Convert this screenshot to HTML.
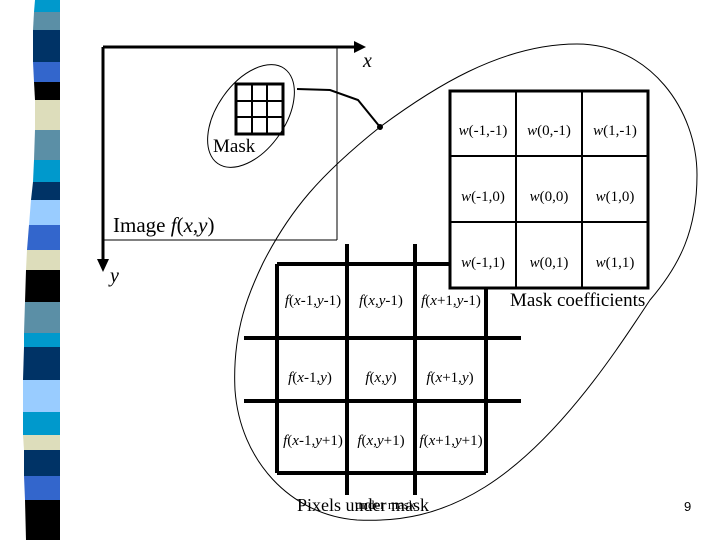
<!DOCTYPE html>
<html><head><meta charset="utf-8"><style>
html,body{margin:0;padding:0;background:#fff;}
svg{display:block;}
text{font-family:"Liberation Serif",serif;fill:#000;}
</style></head><body>
<svg width="720" height="540" viewBox="0 0 720 540" xmlns="http://www.w3.org/2000/svg">
<g>
<polygon points="35,0 60,0 60,12 34,12" fill="#0099cc"/>
<polygon points="34,12 60,12 60,30 33,30" fill="#5b8fa6"/>
<polygon points="33,30 60,30 60,62 33,62" fill="#003366"/>
<polygon points="33,62 60,62 60,82 34,82" fill="#3366cc"/>
<polygon points="34,82 60,82 60,100 35,100" fill="#000"/>
<polygon points="35,100 60,100 60,130 35,130" fill="#ddddbb"/>
<polygon points="35,130 60,130 60,160 34,160" fill="#5b8fa6"/>
<polygon points="34,160 60,160 60,182 33,182" fill="#0099cc"/>
<polygon points="33,182 60,182 60,200 31,200" fill="#003366"/>
<polygon points="31,200 60,200 60,225 29,225" fill="#99ccff"/>
<polygon points="29,225 60,225 60,250 27,250" fill="#3366cc"/>
<polygon points="27,250 60,250 60,270 26,270" fill="#ddddbb"/>
<polygon points="26,270 60,270 60,302 25,302" fill="#000"/>
<polygon points="25,302 60,302 60,333 24,333" fill="#5b8fa6"/>
<polygon points="24,333 60,333 60,347 24,347" fill="#0099cc"/>
<polygon points="24,347 60,347 60,380 23,380" fill="#003366"/>
<polygon points="23,380 60,380 60,412 23,412" fill="#99ccff"/>
<polygon points="23,412 60,412 60,435 23,435" fill="#0099cc"/>
<polygon points="23,435 60,435 60,450 24,450" fill="#ddddbb"/>
<polygon points="24,450 60,450 60,476 24,476" fill="#003366"/>
<polygon points="24,476 60,476 60,500 25,500" fill="#3366cc"/>
<polygon points="25,500 60,500 60,540 26,540" fill="#000"/>
</g>
<line x1="103" y1="47" x2="356" y2="47" stroke="#000" stroke-width="3"/>
<polygon points="354,41 366,47 354,53" fill="#000"/>
<line x1="103" y1="47" x2="103" y2="262" stroke="#000" stroke-width="3"/>
<polygon points="97,259 103,272 109,259" fill="#000"/>
<line x1="337" y1="47" x2="337" y2="240" stroke="#000" stroke-width="1"/>
<line x1="103" y1="240" x2="337" y2="240" stroke="#000" stroke-width="1"/>
<text x="363" y="67" font-size="20" font-style="italic">x</text>
<text x="110" y="282" font-size="20" font-style="italic">y</text>
<text x="113" y="232" font-size="21">Image <tspan font-style="italic">f</tspan>(<tspan font-style="italic">x</tspan>,<tspan font-style="italic">y</tspan>)</text>
<ellipse cx="251" cy="116" rx="58" ry="34" transform="rotate(-55 251 116)" fill="none" stroke="#000" stroke-width="1"/>
<rect x="236" y="84" width="47" height="50" fill="none" stroke="#000" stroke-width="3"/>
<line x1="252" y1="84" x2="252" y2="134" stroke="#000" stroke-width="2"/>
<line x1="267" y1="84" x2="267" y2="134" stroke="#000" stroke-width="2"/>
<line x1="236" y1="101" x2="283" y2="101" stroke="#000" stroke-width="2"/>
<line x1="236" y1="117" x2="283" y2="117" stroke="#000" stroke-width="2"/>
<text x="213" y="152" font-size="19">Mask</text>
<polyline points="297,89 330,90 358,100 380,127" fill="none" stroke="#000" stroke-width="2"/>
<circle cx="380" cy="127" r="3" fill="#000"/>
<path d="M380,127 C430,90 500,44 577,44 C650,44 697,110 697,175 C697,230 680,265 650,300 C620,345 560,440 485,487 C440,515 400,522 357,520 C290,515 240,460 235,390 C232,330 250,290 263,263 C290,210 320,175 380,127 Z" fill="none" stroke="#000" stroke-width="1"/>
<rect x="450" y="91" width="198" height="197" fill="#fff" stroke="#000" stroke-width="3"/>
<line x1="516" y1="91" x2="516" y2="288" stroke="#000" stroke-width="2"/>
<line x1="582" y1="91" x2="582" y2="288" stroke="#000" stroke-width="2"/>
<line x1="450" y1="156" x2="648" y2="156" stroke="#000" stroke-width="2"/>
<line x1="450" y1="222" x2="648" y2="222" stroke="#000" stroke-width="2"/>
<g font-size="15" text-anchor="middle">
<text x="483" y="135"><tspan font-style="italic">w</tspan>(-1,-1)</text>
<text x="549" y="135"><tspan font-style="italic">w</tspan>(0,-1)</text>
<text x="615" y="135"><tspan font-style="italic">w</tspan>(1,-1)</text>
<text x="483" y="201"><tspan font-style="italic">w</tspan>(-1,0)</text>
<text x="549" y="201"><tspan font-style="italic">w</tspan>(0,0)</text>
<text x="615" y="201"><tspan font-style="italic">w</tspan>(1,0)</text>
<text x="483" y="267"><tspan font-style="italic">w</tspan>(-1,1)</text>
<text x="549" y="267"><tspan font-style="italic">w</tspan>(0,1)</text>
<text x="615" y="267"><tspan font-style="italic">w</tspan>(1,1)</text>
</g>
<text x="510" y="306" font-size="19">Mask coefficients</text>
<g stroke="#000" stroke-width="4">
<line x1="277" y1="264" x2="277" y2="473"/>
<line x1="347" y1="244" x2="347" y2="495"/>
<line x1="415" y1="244" x2="415" y2="495"/>
<line x1="486" y1="288" x2="486" y2="473"/>
<line x1="277" y1="264" x2="450" y2="264"/>
<line x1="244" y1="338" x2="521" y2="338"/>
<line x1="244" y1="401" x2="521" y2="401"/>
<line x1="277" y1="473" x2="486" y2="473"/>
</g>
<g font-size="15" text-anchor="middle">
<text x="313" y="305"><tspan font-style="italic">f</tspan>(<tspan font-style="italic">x</tspan>-1,<tspan font-style="italic">y</tspan>-1)</text>
<text x="381" y="305"><tspan font-style="italic">f</tspan>(<tspan font-style="italic">x</tspan>,<tspan font-style="italic">y</tspan>-1)</text>
<text x="451" y="305"><tspan font-style="italic">f</tspan>(<tspan font-style="italic">x</tspan>+1,<tspan font-style="italic">y</tspan>-1)</text>
<text x="310" y="382"><tspan font-style="italic">f</tspan>(<tspan font-style="italic">x</tspan>-1,<tspan font-style="italic">y</tspan>)</text>
<text x="381" y="382"><tspan font-style="italic">f</tspan>(<tspan font-style="italic">x</tspan>,<tspan font-style="italic">y</tspan>)</text>
<text x="450" y="382"><tspan font-style="italic">f</tspan>(<tspan font-style="italic">x</tspan>+1,<tspan font-style="italic">y</tspan>)</text>
<text x="313" y="445"><tspan font-style="italic">f</tspan>(<tspan font-style="italic">x</tspan>-1,<tspan font-style="italic">y</tspan>+1)</text>
<text x="381" y="445"><tspan font-style="italic">f</tspan>(<tspan font-style="italic">x</tspan>,<tspan font-style="italic">y</tspan>+1)</text>
<text x="451" y="445"><tspan font-style="italic">f</tspan>(<tspan font-style="italic">x</tspan>+1,<tspan font-style="italic">y</tspan>+1)</text>
</g>
<text x="297" y="511" font-size="18">Pixels under mask</text>
<text x="355" y="509" font-size="13">under mask</text>
<text x="684" y="511" font-size="13" style="font-family:'Liberation Sans',sans-serif">9</text>
</svg>
</body></html>
